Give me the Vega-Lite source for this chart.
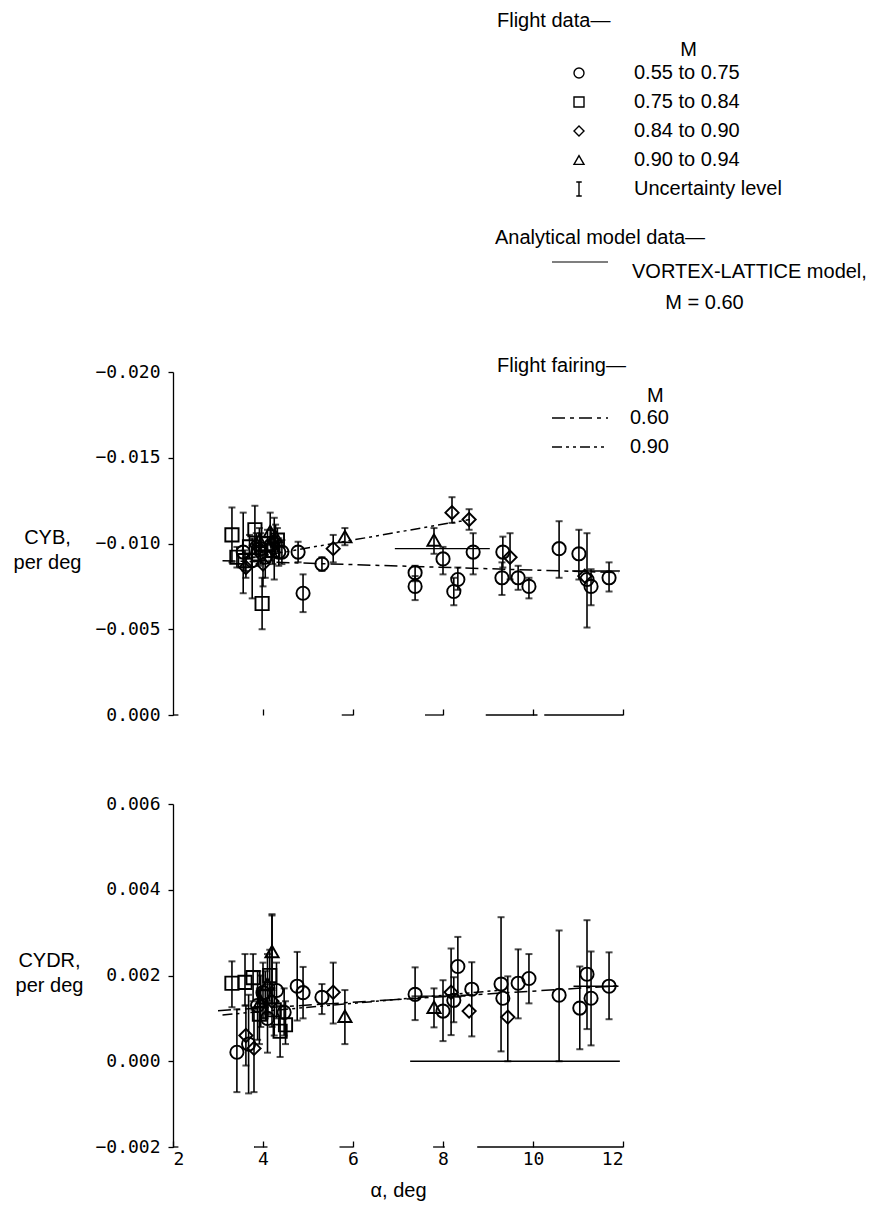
{
  "$schema": "https://vega.github.io/schema/vega-lite/v6.json",
  "background": "white",
  "padding": {"left": 13, "top": 11, "right": 5, "bottom": 5},
  "bounds": "flush",
  "spacing": 89,
  "config": {
    "view": {"stroke": null},
    "font": "Liberation Sans",
    "axis": {"domainColor": "black", "domainWidth": 1.3, "tickColor": "black", "tickWidth": 1.3, "labelColor": "black", "labelFont": "DejaVu Sans Mono", "labelFontSize": 18, "titleColor": "black", "titleFont": "Liberation Sans", "titleFontSize": 20, "titleFontWeight": "normal", "grid": false},
    "legend": {"labelFont": "Liberation Sans", "labelFontSize": 20, "labelColor": "black", "labelLimit": 500, "titleLimit": 500, "titleFont": "Liberation Sans", "titleFontSize": 20, "titleFontWeight": "normal", "titleColor": "black", "padding": 0, "orient": "none"},
    "style": {"guide-label": {"lineHeight": 31}}
  },
  "resolve": {"scale": {"shape": "independent", "color": "independent", "strokeDash": "independent"}},
  "datasets": {
    "upperAxis": [
      {"a": 2.0, "a2": 2.12, "v": 0},
      {"a": 5.75, "a2": 6.0, "v": 0},
      {"a": 7.6, "a2": 8.0, "v": 0},
      {"a": 8.95, "a2": 10.1, "v": 0},
      {"a": 10.25, "a2": 12.0, "v": 0}
    ],
    "lowerAxis": [
      {"a": 2.0, "a2": 2.12, "v": -0.002},
      {"a": 3.8, "a2": 4.1, "v": -0.002},
      {"a": 5.7, "a2": 6.0, "v": -0.002},
      {"a": 7.78, "a2": 8.04, "v": -0.002},
      {"a": 8.76, "a2": 12.0, "v": -0.002}
    ],
    "upperModel": [
      {"a": 6.93, "a2": 9.04, "v": -0.0097, "v2": -0.0097, "m": "VORTEX-LATTICE model, M = 0.60"},
      {"a": 10.87, "a2": 11.93, "v": -0.0084, "v2": -0.0084, "m": "VORTEX-LATTICE model, M = 0.60"}
    ],
    "lowerModel": [
      {"a": 7.27, "a2": 11.93, "v": 0.0, "v2": 0.0, "m": "VORTEX-LATTICE model, M = 0.60"},
      {"a": 7.3, "a2": 8.5, "v": 0.00152, "v2": 0.00152, "m": "VORTEX-LATTICE model, M = 0.60"},
      {"a": 10.9, "a2": 11.9, "v": 0.00175, "v2": 0.00175, "m": "VORTEX-LATTICE model, M = 0.60"}
    ],
    "upperFair": [
      {"a": 3.1, "a2": 11.9, "v": -0.0090, "v2": -0.0083, "f": "0.60"},
      {"a": 3.6, "a2": 8.6, "v": -0.0091, "v2": -0.0114, "f": "0.90"}
    ],
    "lowerFair": [
      {"a": 3.0, "a2": 11.9, "v": 0.00118, "v2": 0.00176, "f": "0.60"},
      {"a": 3.1, "a2": 9.3, "v": 0.00108, "v2": 0.00166, "f": "0.90"}
    ],
    "upperPts": [
      {"a": 3.31, "v": -0.0105, "lo": -0.0121, "hi": -0.0089, "g": "0.75 to 0.84"},
      {"a": 3.42, "v": -0.0092, "lo": -0.0098, "hi": -0.0086, "g": "0.75 to 0.84"},
      {"a": 3.82, "v": -0.0108, "lo": -0.0122, "hi": -0.0094, "g": "0.75 to 0.84"},
      {"a": 3.98, "v": -0.0065, "lo": -0.0080, "hi": -0.0050, "g": "0.75 to 0.84"},
      {"a": 3.70, "v": -0.0098, "lo": -0.0105, "hi": -0.0091, "g": "0.75 to 0.84"},
      {"a": 4.10, "v": -0.0100, "lo": -0.0108, "hi": -0.0092, "g": "0.75 to 0.84"},
      {"a": 4.32, "v": -0.0102, "lo": -0.0109, "hi": -0.0095, "g": "0.75 to 0.84"},
      {"a": 3.90, "v": -0.0094, "lo": -0.0101, "hi": -0.0087, "g": "0.75 to 0.84"},
      {"a": 4.22, "v": -0.0096, "lo": -0.0104, "hi": -0.0088, "g": "0.75 to 0.84"},
      {"a": 3.60, "v": -0.0090, "lo": -0.0096, "hi": -0.0084, "g": "0.75 to 0.84"},
      {"a": 3.56, "v": -0.0095, "lo": -0.0118, "hi": -0.0071, "g": "0.55 to 0.75"},
      {"a": 3.76, "v": -0.0090, "lo": -0.0103, "hi": -0.0068, "g": "0.55 to 0.75"},
      {"a": 3.95, "v": -0.0097, "lo": -0.0106, "hi": -0.0088, "g": "0.55 to 0.75"},
      {"a": 4.05, "v": -0.0092, "lo": -0.0100, "hi": -0.0080, "g": "0.55 to 0.75"},
      {"a": 4.18, "v": -0.0099, "lo": -0.0108, "hi": -0.0090, "g": "0.55 to 0.75"},
      {"a": 4.35, "v": -0.0095, "lo": -0.0103, "hi": -0.0087, "g": "0.55 to 0.75"},
      {"a": 4.42, "v": -0.0095, "lo": -0.0102, "hi": -0.0088, "g": "0.55 to 0.75"},
      {"a": 4.78, "v": -0.0095, "lo": -0.0101, "hi": -0.0089, "g": "0.55 to 0.75"},
      {"a": 4.89, "v": -0.0071, "lo": -0.0082, "hi": -0.0060, "g": "0.55 to 0.75"},
      {"a": 5.31, "v": -0.0088, "lo": -0.0092, "hi": -0.0084, "g": "0.55 to 0.75"},
      {"a": 7.38, "v": -0.0083, "lo": -0.0087, "hi": -0.0078, "g": "0.55 to 0.75"},
      {"a": 7.38, "v": -0.0075, "lo": -0.0081, "hi": -0.0067, "g": "0.55 to 0.75"},
      {"a": 8.00, "v": -0.0091, "lo": -0.0098, "hi": -0.0082, "g": "0.55 to 0.75"},
      {"a": 8.67, "v": -0.0095, "lo": -0.0106, "hi": -0.0082, "g": "0.55 to 0.75"},
      {"a": 8.33, "v": -0.0079, "lo": -0.0086, "hi": -0.0073, "g": "0.55 to 0.75"},
      {"a": 8.24, "v": -0.0072, "lo": -0.0080, "hi": -0.0064, "g": "0.55 to 0.75"},
      {"a": 9.33, "v": -0.0095, "lo": -0.0104, "hi": -0.0086, "g": "0.55 to 0.75"},
      {"a": 9.31, "v": -0.0080, "lo": -0.0089, "hi": -0.0070, "g": "0.55 to 0.75"},
      {"a": 9.67, "v": -0.0080, "lo": -0.0087, "hi": -0.0073, "g": "0.55 to 0.75"},
      {"a": 9.91, "v": -0.0075, "lo": -0.0080, "hi": -0.0068, "g": "0.55 to 0.75"},
      {"a": 10.58, "v": -0.0097, "lo": -0.0113, "hi": -0.0080, "g": "0.55 to 0.75"},
      {"a": 11.02, "v": -0.0094, "lo": -0.0108, "hi": -0.0079, "g": "0.55 to 0.75"},
      {"a": 11.20, "v": -0.0079, "lo": -0.0106, "hi": -0.0051, "g": "0.55 to 0.75"},
      {"a": 11.29, "v": -0.0075, "lo": -0.0085, "hi": -0.0064, "g": "0.55 to 0.75"},
      {"a": 11.69, "v": -0.0080, "lo": -0.0089, "hi": -0.0072, "g": "0.55 to 0.75"},
      {"a": 3.62, "v": -0.0086, "lo": -0.0092, "hi": -0.0080, "g": "0.84 to 0.90"},
      {"a": 4.00, "v": -0.0088, "lo": -0.0095, "hi": -0.0075, "g": "0.84 to 0.90"},
      {"a": 4.25, "v": -0.0101, "lo": -0.0115, "hi": -0.0079, "g": "0.84 to 0.90"},
      {"a": 3.85, "v": -0.0099, "lo": -0.0106, "hi": -0.0092, "g": "0.84 to 0.90"},
      {"a": 5.56, "v": -0.0097, "lo": -0.0105, "hi": -0.0089, "g": "0.84 to 0.90"},
      {"a": 8.20, "v": -0.0118, "lo": -0.0127, "hi": -0.0112, "g": "0.84 to 0.90"},
      {"a": 8.58, "v": -0.0114, "lo": -0.0120, "hi": -0.0108, "g": "0.84 to 0.90"},
      {"a": 9.49, "v": -0.0092, "lo": -0.0106, "hi": -0.0079, "g": "0.84 to 0.90"},
      {"a": 11.15, "v": -0.0081, "g": "0.84 to 0.90"},
      {"a": 4.16, "v": -0.0107, "lo": -0.0118, "hi": -0.0099, "g": "0.90 to 0.94"},
      {"a": 4.28, "v": -0.0104, "lo": -0.0111, "hi": -0.0097, "g": "0.90 to 0.94"},
      {"a": 3.92, "v": -0.0102, "lo": -0.0109, "hi": -0.0095, "g": "0.90 to 0.94"},
      {"a": 5.82, "v": -0.0104, "lo": -0.0109, "hi": -0.0099, "g": "0.90 to 0.94"},
      {"a": 7.80, "v": -0.0102, "lo": -0.0109, "hi": -0.0094, "g": "0.90 to 0.94"}
    ],
    "lowerPts": [
      {"a": 3.31, "v": 0.00182, "lo": 0.00126, "hi": 0.00233, "g": "0.75 to 0.84"},
      {"a": 3.60, "v": 0.00184, "lo": 0.0013, "hi": 0.0025, "g": "0.75 to 0.84"},
      {"a": 3.78, "v": 0.00195, "lo": 0.0014, "hi": 0.0025, "g": "0.75 to 0.84"},
      {"a": 4.05, "v": 0.00150, "lo": 0.0010, "hi": 0.0021, "g": "0.75 to 0.84"},
      {"a": 4.25, "v": 0.00120, "lo": 0.0006, "hi": 0.0018, "g": "0.75 to 0.84"},
      {"a": 4.38, "v": 0.00070, "lo": 0.0001, "hi": 0.0013, "g": "0.75 to 0.84"},
      {"a": 4.50, "v": 0.00085, "lo": 0.0004, "hi": 0.0014, "g": "0.75 to 0.84"},
      {"a": 3.92, "v": 0.00110, "lo": 0.0004, "hi": 0.0017, "g": "0.75 to 0.84"},
      {"a": 4.15, "v": 0.00200, "lo": 0.0014, "hi": 0.0026, "g": "0.75 to 0.84"},
      {"a": 3.42, "v": 0.00021, "lo": -0.00072, "hi": 0.00121, "g": "0.55 to 0.75"},
      {"a": 3.68, "v": 0.00040, "lo": -0.00075, "hi": 0.00155, "g": "0.55 to 0.75"},
      {"a": 3.88, "v": 0.00130, "lo": 0.0005, "hi": 0.0021, "g": "0.55 to 0.75"},
      {"a": 4.00, "v": 0.00160, "lo": 0.0010, "hi": 0.0023, "g": "0.55 to 0.75"},
      {"a": 4.10, "v": 0.00100, "lo": 0.0002, "hi": 0.0018, "g": "0.55 to 0.75"},
      {"a": 4.30, "v": 0.00165, "lo": 0.0010, "hi": 0.0023, "g": "0.55 to 0.75"},
      {"a": 4.47, "v": 0.00114, "lo": 0.0006, "hi": 0.0017, "g": "0.55 to 0.75"},
      {"a": 4.76, "v": 0.00175, "lo": 0.00095, "hi": 0.00255, "g": "0.55 to 0.75"},
      {"a": 4.89, "v": 0.00160, "lo": 0.0010, "hi": 0.0022, "g": "0.55 to 0.75"},
      {"a": 5.31, "v": 0.00149, "lo": 0.0011, "hi": 0.0018, "g": "0.55 to 0.75"},
      {"a": 7.38, "v": 0.00156, "lo": 0.00096, "hi": 0.00219, "g": "0.55 to 0.75"},
      {"a": 8.00, "v": 0.00117, "lo": 0.00047, "hi": 0.00189, "g": "0.55 to 0.75"},
      {"a": 8.24, "v": 0.00142, "lo": 0.00091, "hi": 0.00196, "g": "0.55 to 0.75"},
      {"a": 8.33, "v": 0.00221, "lo": 0.0015, "hi": 0.0029, "g": "0.55 to 0.75"},
      {"a": 8.64, "v": 0.00168, "lo": 0.00058, "hi": 0.00231, "g": "0.55 to 0.75"},
      {"a": 9.29, "v": 0.00180, "lo": 0.00023, "hi": 0.00336, "g": "0.55 to 0.75"},
      {"a": 9.33, "v": 0.00147, "g": "0.55 to 0.75"},
      {"a": 9.67, "v": 0.00182, "lo": 0.0010, "hi": 0.00261, "g": "0.55 to 0.75"},
      {"a": 9.91, "v": 0.00193, "lo": 0.00135, "hi": 0.0025, "g": "0.55 to 0.75"},
      {"a": 10.58, "v": 0.00154, "lo": 0.0, "hi": 0.00305, "g": "0.55 to 0.75"},
      {"a": 11.04, "v": 0.00124, "lo": 0.00028, "hi": 0.00221, "g": "0.55 to 0.75"},
      {"a": 11.20, "v": 0.00203, "lo": 0.00075, "hi": 0.00329, "g": "0.55 to 0.75"},
      {"a": 11.29, "v": 0.00147, "lo": 0.00037, "hi": 0.00256, "g": "0.55 to 0.75"},
      {"a": 11.69, "v": 0.00175, "lo": 0.00098, "hi": 0.00254, "g": "0.55 to 0.75"},
      {"a": 3.62, "v": 0.00060, "lo": -0.0001, "hi": 0.0013, "g": "0.84 to 0.90"},
      {"a": 3.80, "v": 0.00030, "lo": -0.00072, "hi": 0.0012, "g": "0.84 to 0.90"},
      {"a": 4.20, "v": 0.00140, "lo": 0.0008, "hi": 0.0034, "g": "0.84 to 0.90"},
      {"a": 5.56, "v": 0.00161, "lo": 0.00088, "hi": 0.0023, "g": "0.84 to 0.90"},
      {"a": 8.18, "v": 0.00161, "lo": 0.00061, "hi": 0.00263, "g": "0.84 to 0.90"},
      {"a": 8.58, "v": 0.00117, "g": "0.84 to 0.90"},
      {"a": 9.44, "v": 0.00103, "lo": 0.0, "hi": 0.00198, "g": "0.84 to 0.90"},
      {"a": 4.20, "v": 0.00256, "lo": 0.0017, "hi": 0.00343, "g": "0.90 to 0.94"},
      {"a": 4.10, "v": 0.00180, "lo": 0.0011, "hi": 0.0025, "g": "0.90 to 0.94"},
      {"a": 3.95, "v": 0.00140, "lo": 0.0008, "hi": 0.0020, "g": "0.90 to 0.94"},
      {"a": 5.82, "v": 0.00105, "lo": 0.0004, "hi": 0.00166, "g": "0.90 to 0.94"},
      {"a": 7.80, "v": 0.00126, "lo": 0.00079, "hi": 0.0017, "g": "0.90 to 0.94"}
    ]
  },
  "vconcat": [
    {
      "width": 450,
      "height": 343,
      "layer": [
        {
          "data": {"name": "upperAxis"},
          "mark": {"type": "rule", "color": "black", "strokeWidth": 1.3},
          "encoding": {
            "x": {"field": "a", "type": "quantitative", "scale": {"domain": [2, 12], "nice": false, "zero": false}, "axis": {"title": null, "labels": false, "domain": false, "tickSize": -6, "values": [4, 6, 8, 10, 12]}},
            "x2": {"field": "a2"},
            "y": {"field": "v", "type": "quantitative", "scale": {"domain": [-0.02, 0], "reverse": true, "nice": false, "zero": false}, "axis": {"title": ["CYB,", "per deg"], "titleAngle": 0, "titleAlign": "center", "titleBaseline": "top", "titleX": -126, "titleY": 155, "titleLineHeight": 25, "values": [-0.02, -0.015, -0.01, -0.005, 0], "format": ".3f", "tickSize": 5, "labelPadding": 8}}
          }
        },
        {
          "data": {"name": "upperModel"},
          "mark": {"type": "rule", "strokeWidth": 1.4},
          "encoding": {
            "x": {"field": "a", "type": "quantitative", "scale": {"domain": [2, 12], "nice": false, "zero": false}, "axis": {"title": null, "labels": false, "domain": false, "tickSize": -6, "values": [4, 6, 8, 10, 12]}},
            "x2": {"field": "a2"},
            "y": {"field": "v", "type": "quantitative", "scale": {"domain": [-0.02, 0], "reverse": true, "nice": false, "zero": false}, "axis": {"title": ["CYB,", "per deg"], "titleAngle": 0, "titleAlign": "center", "titleBaseline": "top", "titleX": -126, "titleY": 155, "titleLineHeight": 25, "values": [-0.02, -0.015, -0.01, -0.005, 0], "format": ".3f", "tickSize": 5, "labelPadding": 8}},
            "y2": {"field": "v2"},
            "color": {"field": "m", "type": "nominal", "scale": {"domain": ["VORTEX-LATTICE model, M = 0.60"], "range": ["black"]},
              "legend": {"title": "Analytical model data\u2014", "legendX": 322, "legendY": -144, "titlePadding": 4, "symbolType": "M-5.6,0H5.6", "symbolSize": 100, "symbolStrokeWidth": 1.2, "symbolStrokeColor": "black", "symbolOffset": 75, "labelOffset": 42, "labelBaseline": "top",
                "labelExpr": "['VORTEX-LATTICE model,', '\u200b\u00a0\u00a0\u00a0\u00a0\u00a0\u00a0M = 0.60']"}}
          }
        },
        {
          "data": {"name": "upperFair"},
          "mark": {"type": "rule", "color": "black", "strokeWidth": 1.5},
          "encoding": {
            "x": {"field": "a", "type": "quantitative", "scale": {"domain": [2, 12], "nice": false, "zero": false}, "axis": {"title": null, "labels": false, "domain": false, "tickSize": -6, "values": [4, 6, 8, 10, 12]}},
            "x2": {"field": "a2"},
            "y": {"field": "v", "type": "quantitative", "scale": {"domain": [-0.02, 0], "reverse": true, "nice": false, "zero": false}, "axis": {"title": ["CYB,", "per deg"], "titleAngle": 0, "titleAlign": "center", "titleBaseline": "top", "titleX": -126, "titleY": 155, "titleLineHeight": 25, "values": [-0.02, -0.015, -0.01, -0.005, 0], "format": ".3f", "tickSize": 5, "labelPadding": 8}},
            "y2": {"field": "v2"},
            "strokeDash": {"field": "f", "type": "nominal", "scale": {"domain": ["0.60", "0.90"], "range": [[13, 5, 4, 5], [10, 4, 3, 4, 3, 4]]},
              "legend": {"title": ["Flight fairing\u2014", "\u200b\u00a0\u00a0\u00a0\u00a0\u00a0\u00a0\u00a0\u00a0\u00a0\u00a0\u00a0\u00a0\u00a0\u00a0\u00a0\u00a0\u00a0\u00a0\u00a0\u00a0\u00a0\u00a0\u00a0\u00a0\u00a0\u00a0\u00a0M"], "titleLineHeight": 30, "titlePadding": 2, "legendX": 324, "legendY": -16, "rowPadding": 9, "symbolType": "M-5.6,0H5.6", "symbolSize": 100, "symbolStrokeWidth": 1.3, "symbolStrokeColor": "black", "symbolOffset": 73, "labelOffset": 40}}
          }
        },
        {
          "data": {"name": "upperPts"},
          "mark": {"type": "rule", "color": "black", "strokeWidth": 1.6},
          "encoding": {
            "x": {"field": "a", "type": "quantitative", "scale": {"domain": [2, 12], "nice": false, "zero": false}, "axis": {"title": null, "labels": false, "domain": false, "tickSize": -6, "values": [4, 6, 8, 10, 12]}},
            "y": {"field": "lo", "type": "quantitative", "scale": {"domain": [-0.02, 0], "reverse": true, "nice": false, "zero": false}, "axis": {"title": ["CYB,", "per deg"], "titleAngle": 0, "titleAlign": "center", "titleBaseline": "top", "titleX": -126, "titleY": 155, "titleLineHeight": 25, "values": [-0.02, -0.015, -0.01, -0.005, 0], "format": ".3f", "tickSize": 5, "labelPadding": 8}},
            "y2": {"field": "hi"}
          }
        },
        {
          "data": {"name": "upperPts"},
          "mark": {"type": "tick", "orient": "horizontal", "size": 7, "thickness": 2, "color": "black"},
          "encoding": {
            "x": {"field": "a", "type": "quantitative", "scale": {"domain": [2, 12], "nice": false, "zero": false}, "axis": {"title": null, "labels": false, "domain": false, "tickSize": -6, "values": [4, 6, 8, 10, 12]}},
            "y": {"field": "lo", "type": "quantitative", "scale": {"domain": [-0.02, 0], "reverse": true, "nice": false, "zero": false}, "axis": {"title": ["CYB,", "per deg"], "titleAngle": 0, "titleAlign": "center", "titleBaseline": "top", "titleX": -126, "titleY": 155, "titleLineHeight": 25, "values": [-0.02, -0.015, -0.01, -0.005, 0], "format": ".3f", "tickSize": 5, "labelPadding": 8}}
          }
        },
        {
          "data": {"name": "upperPts"},
          "mark": {"type": "tick", "orient": "horizontal", "size": 7, "thickness": 2, "color": "black"},
          "encoding": {
            "x": {"field": "a", "type": "quantitative", "scale": {"domain": [2, 12], "nice": false, "zero": false}, "axis": {"title": null, "labels": false, "domain": false, "tickSize": -6, "values": [4, 6, 8, 10, 12]}},
            "y": {"field": "hi", "type": "quantitative", "scale": {"domain": [-0.02, 0], "reverse": true, "nice": false, "zero": false}, "axis": {"title": ["CYB,", "per deg"], "titleAngle": 0, "titleAlign": "center", "titleBaseline": "top", "titleX": -126, "titleY": 155, "titleLineHeight": 25, "values": [-0.02, -0.015, -0.01, -0.005, 0], "format": ".3f", "tickSize": 5, "labelPadding": 8}}
          }
        },
        {
          "data": {"name": "upperPts"},
          "mark": {"type": "point", "filled": false, "color": "black", "size": 175, "strokeWidth": 1.9, "opacity": 1},
          "encoding": {
            "x": {"field": "a", "type": "quantitative", "scale": {"domain": [2, 12], "nice": false, "zero": false}, "axis": {"title": null, "labels": false, "domain": false, "tickSize": -6, "values": [4, 6, 8, 10, 12]}},
            "y": {"field": "v", "type": "quantitative", "scale": {"domain": [-0.02, 0], "reverse": true, "nice": false, "zero": false}, "axis": {"title": ["CYB,", "per deg"], "titleAngle": 0, "titleAlign": "center", "titleBaseline": "top", "titleX": -126, "titleY": 155, "titleLineHeight": 25, "values": [-0.02, -0.015, -0.01, -0.005, 0], "format": ".3f", "tickSize": 5, "labelPadding": 8}},
            "shape": {"field": "g", "type": "nominal",
              "scale": {"domain": ["0.55 to 0.75", "0.75 to 0.84", "0.84 to 0.90", "0.90 to 0.94", "Uncertainty level"], "range": ["circle", "square", "diamond", "triangle-up", "M-0.55,-1.4H0.55M0,-1.4V1.4M-0.55,1.4H0.55"]},
              "legend": {"title": ["Flight data\u2014", "\u200b\u00a0\u00a0\u00a0\u00a0\u00a0\u00a0\u00a0\u00a0\u00a0\u00a0\u00a0\u00a0\u00a0\u00a0\u00a0\u00a0\u00a0\u00a0\u00a0\u00a0\u00a0\u00a0\u00a0\u00a0\u00a0\u00a0\u00a0\u00a0\u00a0\u00a0\u00a0\u00a0\u00a0M"], "titleLineHeight": 29, "titlePadding": 3, "legendX": 324, "legendY": -361, "rowPadding": 9, "symbolSize": 100, "symbolStrokeWidth": 1.4, "symbolStrokeColor": "black", "symbolOffset": 72, "labelOffset": 45}}
          }
        }
      ]
    },
    {
      "width": 450,
      "height": 343,
      "layer": [
        {
          "data": {"name": "lowerAxis"},
          "mark": {"type": "rule", "color": "black", "strokeWidth": 1.3},
          "encoding": {
            "x": {"field": "a", "type": "quantitative", "scale": {"domain": [2, 12], "nice": false, "zero": false}, "axis": {"title": "\u03b1, deg", "domain": false, "tickSize": -6, "labelPadding": 9, "values": [2, 4, 6, 8, 10, 12], "format": "d", "titleY": 33, "titleBaseline": "top"}},
            "x2": {"field": "a2"},
            "y": {"field": "v", "type": "quantitative", "scale": {"domain": [-0.002, 0.006], "nice": false, "zero": false}, "axis": {"title": ["CYDR,", "per deg"], "titleAngle": 0, "titleAlign": "center", "titleBaseline": "top", "titleX": -124, "titleY": 146, "titleLineHeight": 25, "values": [-0.002, 0, 0.002, 0.004, 0.006], "format": ".3f", "tickSize": 5, "labelPadding": 8}}
          }
        },
        {
          "data": {"name": "lowerModel"},
          "mark": {"type": "rule", "strokeWidth": 1.4},
          "encoding": {
            "x": {"field": "a", "type": "quantitative", "scale": {"domain": [2, 12], "nice": false, "zero": false}, "axis": {"title": "\u03b1, deg", "domain": false, "tickSize": -6, "labelPadding": 9, "values": [2, 4, 6, 8, 10, 12], "format": "d", "titleY": 33, "titleBaseline": "top"}},
            "x2": {"field": "a2"},
            "y": {"field": "v", "type": "quantitative", "scale": {"domain": [-0.002, 0.006], "nice": false, "zero": false}, "axis": {"title": ["CYDR,", "per deg"], "titleAngle": 0, "titleAlign": "center", "titleBaseline": "top", "titleX": -124, "titleY": 146, "titleLineHeight": 25, "values": [-0.002, 0, 0.002, 0.004, 0.006], "format": ".3f", "tickSize": 5, "labelPadding": 8}},
            "y2": {"field": "v2"},
            "color": {"field": "m", "type": "nominal", "scale": {"domain": ["VORTEX-LATTICE model, M = 0.60"], "range": ["black"]}, "legend": null}
          }
        },
        {
          "data": {"name": "lowerFair"},
          "mark": {"type": "rule", "color": "black", "strokeWidth": 1.5},
          "encoding": {
            "x": {"field": "a", "type": "quantitative", "scale": {"domain": [2, 12], "nice": false, "zero": false}, "axis": {"title": "\u03b1, deg", "domain": false, "tickSize": -6, "labelPadding": 9, "values": [2, 4, 6, 8, 10, 12], "format": "d", "titleY": 33, "titleBaseline": "top"}},
            "x2": {"field": "a2"},
            "y": {"field": "v", "type": "quantitative", "scale": {"domain": [-0.002, 0.006], "nice": false, "zero": false}, "axis": {"title": ["CYDR,", "per deg"], "titleAngle": 0, "titleAlign": "center", "titleBaseline": "top", "titleX": -124, "titleY": 146, "titleLineHeight": 25, "values": [-0.002, 0, 0.002, 0.004, 0.006], "format": ".3f", "tickSize": 5, "labelPadding": 8}},
            "y2": {"field": "v2"},
            "strokeDash": {"field": "f", "type": "nominal", "scale": {"domain": ["0.60", "0.90"], "range": [[13, 5, 4, 5], [10, 4, 3, 4, 3, 4]]}, "legend": null}
          }
        },
        {
          "data": {"name": "lowerPts"},
          "mark": {"type": "rule", "color": "black", "strokeWidth": 1.6},
          "encoding": {
            "x": {"field": "a", "type": "quantitative", "scale": {"domain": [2, 12], "nice": false, "zero": false}, "axis": {"title": "\u03b1, deg", "domain": false, "tickSize": -6, "labelPadding": 9, "values": [2, 4, 6, 8, 10, 12], "format": "d", "titleY": 33, "titleBaseline": "top"}},
            "y": {"field": "lo", "type": "quantitative", "scale": {"domain": [-0.002, 0.006], "nice": false, "zero": false}, "axis": {"title": ["CYDR,", "per deg"], "titleAngle": 0, "titleAlign": "center", "titleBaseline": "top", "titleX": -124, "titleY": 146, "titleLineHeight": 25, "values": [-0.002, 0, 0.002, 0.004, 0.006], "format": ".3f", "tickSize": 5, "labelPadding": 8}},
            "y2": {"field": "hi"}
          }
        },
        {
          "data": {"name": "lowerPts"},
          "mark": {"type": "tick", "orient": "horizontal", "size": 7, "thickness": 2, "color": "black"},
          "encoding": {
            "x": {"field": "a", "type": "quantitative", "scale": {"domain": [2, 12], "nice": false, "zero": false}, "axis": {"title": "\u03b1, deg", "domain": false, "tickSize": -6, "labelPadding": 9, "values": [2, 4, 6, 8, 10, 12], "format": "d", "titleY": 33, "titleBaseline": "top"}},
            "y": {"field": "lo", "type": "quantitative", "scale": {"domain": [-0.002, 0.006], "nice": false, "zero": false}, "axis": {"title": ["CYDR,", "per deg"], "titleAngle": 0, "titleAlign": "center", "titleBaseline": "top", "titleX": -124, "titleY": 146, "titleLineHeight": 25, "values": [-0.002, 0, 0.002, 0.004, 0.006], "format": ".3f", "tickSize": 5, "labelPadding": 8}}
          }
        },
        {
          "data": {"name": "lowerPts"},
          "mark": {"type": "tick", "orient": "horizontal", "size": 7, "thickness": 2, "color": "black"},
          "encoding": {
            "x": {"field": "a", "type": "quantitative", "scale": {"domain": [2, 12], "nice": false, "zero": false}, "axis": {"title": "\u03b1, deg", "domain": false, "tickSize": -6, "labelPadding": 9, "values": [2, 4, 6, 8, 10, 12], "format": "d", "titleY": 33, "titleBaseline": "top"}},
            "y": {"field": "hi", "type": "quantitative", "scale": {"domain": [-0.002, 0.006], "nice": false, "zero": false}, "axis": {"title": ["CYDR,", "per deg"], "titleAngle": 0, "titleAlign": "center", "titleBaseline": "top", "titleX": -124, "titleY": 146, "titleLineHeight": 25, "values": [-0.002, 0, 0.002, 0.004, 0.006], "format": ".3f", "tickSize": 5, "labelPadding": 8}}
          }
        },
        {
          "data": {"name": "lowerPts"},
          "mark": {"type": "point", "filled": false, "color": "black", "size": 175, "strokeWidth": 1.9, "opacity": 1},
          "encoding": {
            "x": {"field": "a", "type": "quantitative", "scale": {"domain": [2, 12], "nice": false, "zero": false}, "axis": {"title": "\u03b1, deg", "domain": false, "tickSize": -6, "labelPadding": 9, "values": [2, 4, 6, 8, 10, 12], "format": "d", "titleY": 33, "titleBaseline": "top"}},
            "y": {"field": "v", "type": "quantitative", "scale": {"domain": [-0.002, 0.006], "nice": false, "zero": false}, "axis": {"title": ["CYDR,", "per deg"], "titleAngle": 0, "titleAlign": "center", "titleBaseline": "top", "titleX": -124, "titleY": 146, "titleLineHeight": 25, "values": [-0.002, 0, 0.002, 0.004, 0.006], "format": ".3f", "tickSize": 5, "labelPadding": 8}},
            "shape": {"field": "g", "type": "nominal",
              "scale": {"domain": ["0.55 to 0.75", "0.75 to 0.84", "0.84 to 0.90", "0.90 to 0.94", "Uncertainty level"], "range": ["circle", "square", "diamond", "triangle-up", "M-0.55,-1.4H0.55M0,-1.4V1.4M-0.55,1.4H0.55"]},
              "legend": null}
          }
        }
      ]
    }
  ]
}
